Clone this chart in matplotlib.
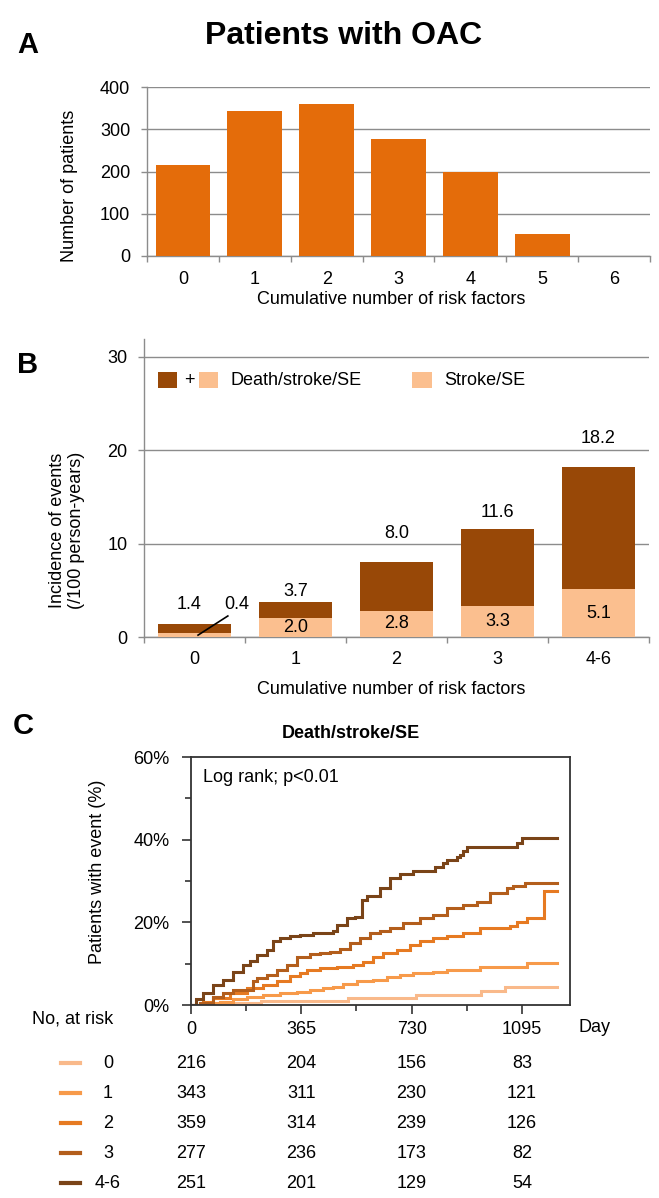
import matplotlib
matplotlib.use('Agg')
import matplotlib.pyplot as plt
import numpy as np
from matplotlib.patches import Rectangle
from matplotlib.lines import Line2D
from matplotlib.ticker import PercentFormatter
import matplotlib.transforms as mtransforms

plt.rcParams['font.family'] = ['Liberation Sans', 'DejaVu Sans']
plt.rcParams['font.size'] = 13

# ---------------- data ----------------
a_categories = ['0', '1', '2', '3', '4', '5', '6']
a_patients = [216, 343, 359, 277, 199, 51, 1]

b_categories = ['0', '1', '2', '3', '4-6']
b_death_stroke_se = [1.4, 3.7, 8.0, 11.6, 18.2]
b_stroke_se = [0.4, 2.0, 2.8, 3.3, 5.1]

km_groups = ['0', '1', '2', '3', '4-6']
km_end_day = 1211
km_days_0 = [0, 150, 230, 520, 745, 960, 1038]
km_pct_0 = [0, 0.5, 1.0, 1.6, 2.4, 3.5, 4.3]
km_days_1 = [0, 50, 96, 140, 184, 239, 295, 350, 394, 438, 471, 504, 548, 603,
             647, 692, 736, 802, 846, 956, 1111]
km_pct_1 = [0, 0.4, 0.8, 1.4, 1.9, 2.4, 2.8, 3.2, 3.6, 4.0, 4.4, 5.1, 5.7, 6.1,
            6.7, 7.3, 7.8, 8.1, 8.5, 9.3, 10.1]
km_days_2 = [0, 40, 74, 129, 184, 239, 283, 328, 361, 383, 427, 482, 537, 570,
             603, 636, 681, 725, 758, 802, 846, 901, 956, 1056, 1078, 1111, 1169]
km_pct_2 = [0, 0.8, 1.6, 2.8, 4.0, 4.8, 5.7, 6.9, 7.7, 8.5, 8.9, 9.3, 9.7, 10.5,
            11.7, 12.5, 13.3, 14.5, 15.4, 16.2, 16.6, 17.4, 18.6, 19.0, 20.2, 21.0, 27.5]
km_days_3 = [0, 30, 74, 107, 140, 206, 217, 250, 283, 317, 350, 394, 427, 460,
             493, 526, 559, 592, 625, 658, 702, 758, 802, 846, 901, 945, 989,
             1045, 1067, 1105]
km_pct_3 = [0, 0.6, 2.0, 2.8, 3.6, 5.7, 6.5, 7.3, 8.5, 9.7, 11.7, 12.4, 12.5, 12.9,
            13.5, 15.0, 16.2, 17.4, 18.0, 18.6, 19.8, 21.0, 21.8, 23.4, 24.2, 25.0,
            27.1, 28.3, 28.8, 29.6]
km_days_4 = [0, 15, 41, 74, 107, 140, 173, 195, 217, 250, 272, 295, 328, 361,
             405, 471, 482, 515, 543, 565, 581, 625, 658, 692, 736, 807, 835, 846,
             879, 890, 901, 912, 1078, 1094]
km_pct_4 = [0, 1.5, 3.0, 4.8, 6.1, 8.1, 9.7, 10.7, 12.1, 13.3, 15.4, 16.2, 16.6,
            17.0, 17.4, 17.8, 19.4, 21.0, 21.4, 25.5, 26.3, 28.3, 30.7, 31.8, 32.3,
            33.4, 34.3, 35.2, 35.8, 36.4, 37.2, 38.2, 39.3, 40.3]

atrisk_days = [0, 365, 730, 1095]
atrisk_0 = [216, 204, 156, 83]
atrisk_1 = [343, 311, 230, 121]
atrisk_2 = [359, 314, 239, 126]
atrisk_3 = [277, 236, 173, 82]
atrisk_4 = [251, 201, 129, 54]

# ---------------- layout helpers ----------------
W, H = 659, 1198
fig = plt.figure(figsize=(W / 100, H / 100), dpi=100)
fig.patch.set_facecolor('white')


def fx(px):
    return px / W


def fy(py):
    return 1 - py / H


GRAY = '#8C8C8C'
ORANGE = '#E46C0A'
DARK = '#984807'
LIGHT = '#FBBF8F'

# ---------------- panel A ----------------
axA = fig.add_axes([fx(147), fy(256), (650 - 147) / W, (256 - 87) / H])
xa = np.arange(len(a_categories))
axA.bar(xa, a_patients, width=0.76, color=ORANGE, zorder=3)
axA.set_xlim(-0.5, len(a_categories) - 0.5)
axA.set_ylim(0, 400)
axA.set_yticks([0, 100, 200, 300, 400])
axA.set_xticks(np.arange(-0.5, len(a_categories), 1))
axA.set_xticklabels([])
axA.set_xticks(xa, minor=True)
axA.set_xticklabels(a_categories, minor=True)
axA.tick_params(axis='x', which='major', length=4, color=GRAY, width=1)
axA.tick_params(axis='x', which='minor', length=0, pad=11)
axA.tick_params(axis='y', length=4, color=GRAY, width=1, pad=8)
axA.yaxis.grid(True, color=GRAY, lw=1, zorder=0)
axA.set_axisbelow(True)
for s in ['top', 'right']:
    axA.spines[s].set_visible(False)
for s in ['left', 'bottom']:
    axA.spines[s].set_color(GRAY)
    axA.spines[s].set_linewidth(1)

fig.text(fx(391), fy(300), 'Cumulative number of risk factors', ha='center', va='center')
fig.text(fx(69), fy(186), 'Number of patients', ha='center', va='center', rotation=90)
fig.text(fx(344), fy(44), 'Patients with OAC', ha='center', va='baseline',
         fontsize=23, fontweight='bold')
fig.text(fx(28), fy(53), 'A', ha='center', va='baseline', fontsize=21, fontweight='bold')

# ---------------- panel B ----------------
axB = fig.add_axes([fx(144), fy(637), (649 - 144) / W, (637 - 339) / H])
xb = np.arange(len(b_categories))
upper = np.subtract(b_death_stroke_se, b_stroke_se)
axB.bar(xb, b_stroke_se, width=0.72, color=LIGHT, zorder=3)
axB.bar(xb, upper, bottom=b_stroke_se, width=0.72, color=DARK, zorder=3)
axB.set_xlim(-0.5, len(b_categories) - 0.5)
axB.set_ylim(0, 31.9)
axB.set_yticks([0, 10, 20, 30])
axB.set_xticks(np.arange(-0.5, len(b_categories), 1))
axB.set_xticklabels([])
axB.set_xticks(xb, minor=True)
axB.set_xticklabels(b_categories, minor=True)
axB.tick_params(axis='x', which='major', length=4, color=GRAY, width=1)
axB.tick_params(axis='x', which='minor', length=0, pad=10)
axB.tick_params(axis='y', length=4, color=GRAY, width=1, pad=8)
axB.yaxis.grid(True, color=GRAY, lw=1, zorder=0)
axB.set_axisbelow(True)
for s in ['top', 'right']:
    axB.spines[s].set_visible(False)
for s in ['left', 'bottom']:
    axB.spines[s].set_color(GRAY)
    axB.spines[s].set_linewidth(1)

# value labels
total_label_y = [3.5, 4.9, 11.1, 13.3, 21.3]
for i, (t, s) in enumerate(zip(b_death_stroke_se, b_stroke_se)):
    if i == 0:
        axB.text(i - 0.05, total_label_y[i], f'{t:.1f}', ha='center', va='center')
        axB.text(i + 0.42, total_label_y[i], f'{s:.1f}', ha='center', va='center')
        axB.plot([i + 0.035, i + 0.33], [0.2, 2.25], color='black', lw=1.2, zorder=5)
    else:
        axB.text(i, total_label_y[i], f'{t:.1f}', ha='center', va='center')
        axB.text(i, s / 2, f'{s:.1f}', ha='center', va='center', zorder=6)

# legend (manual)
def frect(x0, x1, y0, y1, color):
    fig.add_artist(Rectangle((fx(x0), fy(y1)), fx(x1) - fx(x0), fy(y0) - fy(y1),
                             transform=fig.transFigure, color=color, lw=0))

frect(158, 177, 372, 388, DARK)
fig.text(fx(189), fy(380), '+', ha='center', va='center')
frect(199, 218, 372, 388, LIGHT)
fig.text(fx(231), fy(380), 'Death/stroke/SE', ha='left', va='center')
frect(412, 432, 372, 388, LIGHT)
fig.text(fx(444), fy(380), 'Stroke/SE', ha='left', va='center')

fig.text(fx(391), fy(689), 'Cumulative number of risk factors', ha='center', va='center')
fig.text(fx(67), fy(530), 'Incidence of events\n(/100 person-years)', ha='center',
         va='center', rotation=90, multialignment='center')
fig.text(fx(28), fy(373), 'B', ha='center', va='baseline', fontsize=21, fontweight='bold')

# ---------------- panel C ----------------
axC = fig.add_axes([fx(191), fy(1005), (570 - 191) / W, (1005 - 757) / H])
km_colors = ['#F9B98A', '#F79A4A', '#E67A22', '#B35E1C', '#7A4418']
km_days = [km_days_0, km_days_1, km_days_2, km_days_3, km_days_4]
km_pcts = [km_pct_0, km_pct_1, km_pct_2, km_pct_3, km_pct_4]
for d, p, c in zip(km_days, km_pcts, km_colors):
    axC.step(list(d) + [km_end_day], list(p) + [p[-1]], where='post', color=c, lw=2.2,
             solid_joinstyle='miter')
axC.set_xlim(0, 1254)
axC.set_ylim(0, 60)
axC.set_xticks(atrisk_days)
axC.set_xticklabels([str(d) for d in atrisk_days])
axC.set_xticks([182.5, 547.5, 912.5], minor=True)
axC.set_yticks([0, 20, 40, 60])
axC.set_yticks([10, 30, 50], minor=True)
axC.yaxis.set_major_formatter(PercentFormatter(decimals=0))
axC.tick_params(axis='both', which='major', length=6.5, width=1.2, color='#333333')
axC.tick_params(axis='both', which='minor', length=4.3, width=1.2, color='#333333')
axC.tick_params(axis='x', which='major', pad=5)
axC.tick_params(axis='y', which='major', pad=9)
for s in axC.spines.values():
    s.set_color('#333333')
    s.set_linewidth(1.3)

fig.text(fx(351), fy(733), 'Death/stroke/SE', ha='center', va='center', fontweight='bold')
fig.text(fx(203), fy(777), 'Log rank; p<0.01', ha='left', va='center')
fig.text(fx(97.5), fy(872), 'Patients with event (%)', ha='center', va='center', rotation=90)
fig.text(fx(23), fy(734), 'C', ha='center', va='baseline', fontsize=21, fontweight='bold')

# at-risk table
fig.text(fx(31.5), fy(1019), 'No, at risk', ha='left', va='center')
fig.text(fx(595), fy(1028), 'Day', ha='center', va='center')
blend = mtransforms.blended_transform_factory(axC.transData, fig.transFigure)
atrisk = [atrisk_0, atrisk_1, atrisk_2, atrisk_3, atrisk_4]
for i, (g, row, c) in enumerate(zip(km_groups, atrisk, km_colors)):
    ypx = 1063 + 30 * i
    fig.add_artist(Line2D([fx(61), fx(80)], [fy(ypx), fy(ypx)], transform=fig.transFigure,
                          color=c, lw=3))
    fig.text(fx(108), fy(ypx), g, ha='center', va='center')
    for d, n in zip(atrisk_days, row):
        axC.text(d, fy(ypx), str(n), transform=blend, ha='center', va='center')

fig.savefig('out.png', dpi=100)
